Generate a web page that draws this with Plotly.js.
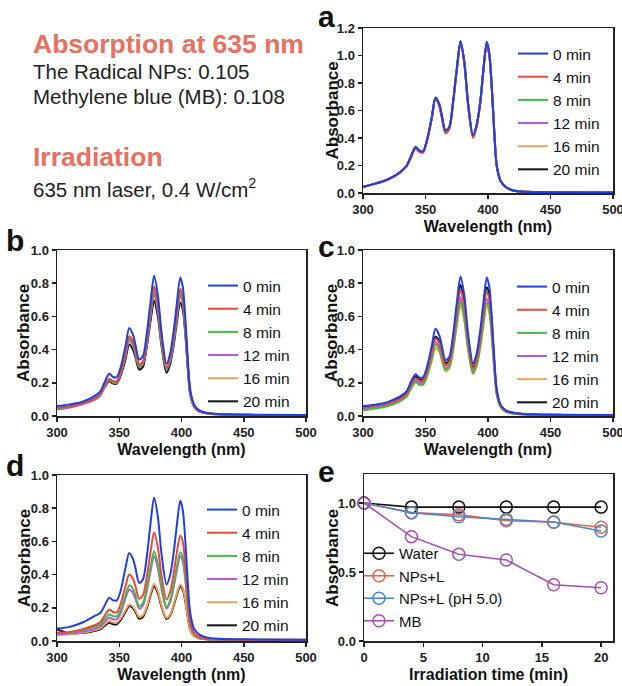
<!DOCTYPE html>
<html>
<head>
<meta charset="utf-8">
<script src="https://cdn.plot.ly/plotly-3.0.1.min.js"></script>
<style>
html,body{margin:0;padding:0;background:#fff;}
#chart{width:622px;height:686px;}
</style>
</head>
<body>
<div id="chart"></div>
<script>
// ---------- DATA ----------
const wavelength = [300,310,320,330,335,338,342,345,348,351,355,358,361,363,366,369,372,375,378,381,384,388,391,394,396,399,401,403,405,407,410,414,420,430,450,500];
const timeLabels = ['0 min','4 min','8 min','12 min','16 min','20 min'];

// panel a
const a0  = [0.045,0.068,0.10,0.155,0.20,0.26,0.335,0.31,0.303,0.38,0.55,0.695,0.65,0.57,0.455,0.48,0.66,0.90,1.105,0.96,0.66,0.42,0.50,0.68,0.87,1.10,1.02,0.78,0.45,0.20,0.09,0.045,0.018,0.009,0.006,0.004];
const a4  = [0.042,0.07,0.097,0.15,0.195,0.25,0.322,0.30,0.293,0.37,0.54,0.685,0.63,0.55,0.435,0.465,0.65,0.89,1.09,0.945,0.645,0.40,0.485,0.665,0.855,1.075,1.0,0.765,0.44,0.195,0.088,0.044,0.017,0.009,0.006,0.004];
const a8  = [0.044,0.069,0.099,0.153,0.198,0.257,0.33,0.306,0.299,0.376,0.546,0.69,0.64,0.56,0.448,0.475,0.656,0.896,1.10,0.955,0.655,0.412,0.495,0.675,0.865,1.09,1.01,0.774,0.446,0.198,0.089,0.045,0.018,0.009,0.006,0.004];
const a12 = [0.044,0.068,0.099,0.152,0.197,0.256,0.329,0.305,0.298,0.375,0.545,0.689,0.64,0.56,0.447,0.474,0.655,0.895,1.098,0.953,0.653,0.41,0.493,0.673,0.863,1.088,1.008,0.772,0.445,0.197,0.089,0.045,0.018,0.009,0.006,0.004];
const a16 = [0.043,0.068,0.098,0.152,0.197,0.255,0.328,0.304,0.297,0.374,0.544,0.688,0.638,0.558,0.445,0.472,0.654,0.894,1.097,0.952,0.652,0.408,0.492,0.672,0.862,1.086,1.006,0.77,0.444,0.197,0.089,0.045,0.018,0.009,0.006,0.004];
const a20 = [0.044,0.068,0.099,0.153,0.198,0.257,0.33,0.306,0.299,0.376,0.547,0.691,0.642,0.562,0.449,0.476,0.657,0.897,1.10,0.956,0.656,0.413,0.496,0.676,0.866,1.092,1.012,0.775,0.447,0.198,0.089,0.045,0.018,0.009,0.006,0.004];

// panel b
const b0  = [0.06,0.07,0.085,0.12,0.15,0.20,0.255,0.235,0.235,0.29,0.42,0.53,0.49,0.43,0.34,0.36,0.49,0.68,0.845,0.73,0.50,0.315,0.38,0.53,0.66,0.835,0.78,0.60,0.35,0.16,0.07,0.035,0.02,0.012,0.008,0.006];
const b4  = [0.05,0.055,0.075,0.105,0.135,0.18,0.225,0.21,0.21,0.26,0.38,0.48,0.45,0.395,0.31,0.33,0.45,0.63,0.78,0.675,0.465,0.29,0.35,0.49,0.61,0.765,0.715,0.55,0.32,0.145,0.065,0.03,0.018,0.011,0.007,0.005];
const b8  = [0.045,0.055,0.075,0.10,0.13,0.175,0.22,0.205,0.205,0.255,0.37,0.465,0.435,0.38,0.30,0.32,0.44,0.61,0.75,0.65,0.45,0.285,0.34,0.475,0.59,0.74,0.69,0.535,0.31,0.14,0.062,0.03,0.017,0.01,0.007,0.005];
const b12 = [0.04,0.05,0.07,0.095,0.125,0.17,0.215,0.20,0.20,0.25,0.36,0.455,0.425,0.37,0.295,0.31,0.425,0.59,0.73,0.63,0.44,0.28,0.33,0.46,0.575,0.72,0.675,0.52,0.30,0.135,0.06,0.03,0.017,0.01,0.007,0.005];
const b16 = [0.045,0.055,0.072,0.10,0.13,0.178,0.222,0.207,0.207,0.258,0.375,0.47,0.44,0.385,0.305,0.325,0.445,0.62,0.765,0.66,0.455,0.29,0.345,0.485,0.605,0.755,0.705,0.545,0.315,0.142,0.063,0.03,0.017,0.01,0.007,0.005];
const b20 = [0.05,0.058,0.075,0.105,0.13,0.17,0.21,0.195,0.195,0.24,0.34,0.43,0.40,0.355,0.28,0.295,0.41,0.565,0.695,0.60,0.42,0.26,0.315,0.44,0.55,0.68,0.64,0.50,0.29,0.13,0.058,0.028,0.016,0.01,0.007,0.005];

// panel c
const c0  = [0.06,0.068,0.085,0.12,0.15,0.20,0.252,0.232,0.233,0.29,0.42,0.525,0.485,0.425,0.335,0.355,0.485,0.68,0.84,0.73,0.50,0.318,0.38,0.53,0.66,0.835,0.78,0.60,0.35,0.16,0.07,0.035,0.02,0.012,0.008,0.006];
const c4  = [0.05,0.06,0.075,0.105,0.135,0.18,0.228,0.212,0.212,0.262,0.38,0.465,0.44,0.385,0.305,0.325,0.44,0.62,0.76,0.66,0.455,0.285,0.344,0.48,0.60,0.745,0.705,0.543,0.317,0.145,0.063,0.032,0.018,0.011,0.007,0.005];
const c8  = [0.035,0.045,0.06,0.09,0.118,0.16,0.205,0.19,0.19,0.238,0.345,0.43,0.40,0.35,0.28,0.295,0.40,0.56,0.69,0.595,0.41,0.26,0.312,0.435,0.545,0.68,0.64,0.49,0.287,0.13,0.055,0.027,0.015,0.009,0.006,0.005];
const c12 = [0.045,0.055,0.07,0.10,0.128,0.17,0.215,0.20,0.20,0.247,0.357,0.445,0.415,0.362,0.29,0.306,0.415,0.58,0.715,0.615,0.425,0.27,0.323,0.45,0.565,0.705,0.663,0.51,0.298,0.136,0.06,0.03,0.017,0.01,0.007,0.005];
const c16 = [0.045,0.052,0.068,0.095,0.122,0.163,0.205,0.188,0.188,0.232,0.33,0.41,0.385,0.335,0.268,0.285,0.385,0.54,0.665,0.575,0.40,0.252,0.30,0.42,0.525,0.66,0.62,0.475,0.277,0.127,0.055,0.027,0.015,0.009,0.006,0.005];
const c20 = [0.055,0.065,0.08,0.112,0.14,0.187,0.238,0.22,0.22,0.272,0.393,0.477,0.45,0.395,0.318,0.337,0.458,0.64,0.79,0.68,0.47,0.295,0.355,0.50,0.625,0.775,0.73,0.56,0.327,0.15,0.065,0.033,0.019,0.011,0.007,0.005];

// panel d
const d0  = [0.075,0.085,0.11,0.15,0.17,0.21,0.26,0.245,0.245,0.30,0.44,0.53,0.495,0.44,0.35,0.37,0.50,0.70,0.865,0.75,0.52,0.34,0.40,0.55,0.68,0.845,0.79,0.61,0.36,0.17,0.075,0.04,0.022,0.014,0.01,0.008];
const d4  = [0.05,0.055,0.07,0.095,0.115,0.15,0.19,0.175,0.172,0.22,0.33,0.40,0.375,0.33,0.255,0.275,0.38,0.53,0.655,0.565,0.39,0.25,0.30,0.42,0.52,0.635,0.60,0.46,0.27,0.12,0.05,0.025,0.014,0.01,0.008,0.007];
const d8  = [0.045,0.052,0.065,0.085,0.10,0.13,0.16,0.15,0.148,0.185,0.275,0.335,0.315,0.275,0.21,0.228,0.315,0.44,0.54,0.465,0.325,0.205,0.248,0.35,0.435,0.535,0.505,0.39,0.23,0.105,0.045,0.022,0.013,0.009,0.007,0.006];
const d12 = [0.04,0.045,0.055,0.072,0.088,0.112,0.14,0.132,0.13,0.168,0.255,0.31,0.29,0.255,0.195,0.212,0.295,0.415,0.51,0.44,0.31,0.195,0.235,0.335,0.415,0.51,0.48,0.37,0.22,0.10,0.043,0.021,0.012,0.008,0.006,0.006];
const d16 = [0.035,0.04,0.05,0.065,0.078,0.098,0.12,0.112,0.11,0.135,0.185,0.22,0.207,0.185,0.145,0.155,0.205,0.285,0.345,0.30,0.215,0.14,0.162,0.23,0.28,0.34,0.32,0.25,0.15,0.07,0.03,0.016,0.01,0.007,0.006,0.005];
const d20 = [0.07,0.045,0.048,0.06,0.072,0.09,0.11,0.102,0.10,0.126,0.175,0.21,0.198,0.175,0.135,0.145,0.195,0.272,0.33,0.288,0.205,0.133,0.155,0.22,0.27,0.33,0.31,0.24,0.145,0.068,0.03,0.016,0.01,0.007,0.006,0.005];

// panel e
const irrTime = [0,4,8,12,16,20];
const water   = [1.0,0.97,0.97,0.97,0.97,0.97];
const npsL    = [1.0,0.93,0.915,0.872,0.86,0.824];
const npsLpH  = [1.0,0.93,0.90,0.882,0.862,0.797];
const mbVals  = [1.0,0.756,0.628,0.587,0.408,0.386];
const eNames  = ['Water','NPs+L','NPs+L (pH 5.0)','MB'];

// ---------- STYLE ----------
const FONT = 'Liberation Sans, Arial, Helvetica, sans-serif';
const specColors = ['#1f3fe6','#e8483a','#44b84a','#b25ae6','#f2a25a','#111111'];
const eColors = ['#111111','#e8604f','#4a86c8','#a64fb0'];
const W = 622, H = 686;
const px = v => v / W;
const py = v => 1 - v / H;

const panels = [
  {id:'', sets:[a0,a4,a8,a12,a16,a20], legend:'legend'},
  {id:'2', sets:[b0,b4,b8,b12,b16,b20], legend:'legend2'},
  {id:'3', sets:[c0,c4,c8,c12,c16,c20], legend:'legend3'},
  {id:'4', sets:[d0,d4,d8,d12,d16,d20], legend:'legend4'}
];

const traces = [];
panels.forEach(p => {
  for (let i = 5; i >= 0; i--) {
    traces.push({
      type:'scatter', mode:'lines', x:wavelength, y:p.sets[i], name:timeLabels[i],
      xaxis:'x'+p.id, yaxis:'y'+p.id, legend:p.legend,
      line:{color:specColors[i], width:2, shape:'spline', smoothing:0.8},
      hoverinfo:'skip'
    });
  }
});
const eSets = [water, npsL, npsLpH, mbVals];
eSets.forEach((s, i) => {
  traces.push({
    type:'scatter', mode:'lines+markers', x:irrTime, y:s, name:eNames[i],
    xaxis:'x5', yaxis:'y5', legend:'legend5', cliponaxis:false,
    line:{color:eColors[i], width:1.6},
    marker:{symbol:'circle-open', size:12, color:eColors[i], line:{width:1.5, color:eColors[i]}}
  });
});

function ax(extra) {
  return Object.assign({
    showline:true, linecolor:'#222', linewidth:1.5, mirror:true,
    ticks:'outside', ticklen:4, tickwidth:1.5, tickcolor:'#222',
    showgrid:false, zeroline:false, fixedrange:true, ticklabeloverflow:'allow',
    tickfont:{family:FONT, size:13, color:'#222', weight:'bold'}
  }, extra);
}
const xTitle = t => ({text:t, font:{family:FONT, size:16, color:'#111', weight:'bold'}, standoff:4});

const xa = [363,613], xb = [57,306];
const ya = [28,193], yb = [250,416], yd = [475,641], ye = [474,641];
const dom = (r) => [px(r[0]), px(r[1])];
const domY = (r) => [py(r[1]), py(r[0])];

const specX = (d, anchor) => ax({domain:d, anchor:anchor, range:[300,500], tickvals:[300,350,400,450,500], title:xTitle('Wavelength (nm)')});
const specY = (d, anchor, top) => ax({domain:d, anchor:anchor, range:[0,top], dtick:0.2, tickformat:'.1f'});

const legendBase = (x, y, size) => ({x:x, y:y, xanchor:'left', yanchor:'top', bgcolor:'rgba(0,0,0,0)', borderwidth:0,
  font:{family:FONT, size:size, color:'#111'}, traceorder:'reversed', itemclick:false, itemdoubleclick:false});

const redTxt = '#e8705f';
const ann = (text, x, y, size, bold, color, anchorX, angle) => ({
  text:text, xref:'paper', yref:'paper', x:x, y:y, xanchor:anchorX || 'left', yanchor:'middle', showarrow:false,
  textangle: angle || 0,
  font:{family:FONT, size:size, color:color, weight: bold ? 'bold' : 'normal'}
});
const yLab = (x, y) => ann('Absorbance', px(x), py(y), 17, true, '#111', 'center', -90);

const layout = {
  width:W, height:H, margin:{l:0,r:0,t:0,b:0},
  paper_bgcolor:'#fff', plot_bgcolor:'#fff', showlegend:true,
  xaxis:  specX(dom(xa), 'y'),  yaxis:  specY(domY(ya), 'x', 1.2),
  xaxis2: specX(dom(xb), 'y2'), yaxis2: specY(domY(yb), 'x2', 1.0),
  xaxis3: specX(dom(xa), 'y3'), yaxis3: specY(domY(yb), 'x3', 1.0),
  xaxis4: specX(dom(xb), 'y4'), yaxis4: specY(domY(yd), 'x4', 1.0),
  xaxis5: ax({domain:[px(364), px(613)], anchor:'y5', range:[0,21], tickvals:[0,5,10,15,20], title:xTitle('Irradiation time (min)')}),
  yaxis5: ax({domain:domY(ye), anchor:'x5', range:[0,1.21], tickvals:[0,0.5,1.0], tickformat:'.1f'}),
  legend:  legendBase(px(513), py(37), 15.5),
  legend2: legendBase(px(203), py(269), 15.5),
  legend3: legendBase(px(512), py(270), 15.5),
  legend4: legendBase(px(202), py(493), 15.5),
  legend5: Object.assign(legendBase(px(359), py(537), 15), {traceorder:'normal'}),
  annotations: [
    ann('Absorption at 635 nm', px(31), py(44), 26.5, true, redTxt),
    ann('The Radical NPs: 0.105', px(31), py(71.5), 20.5, false, '#222'),
    ann('Methylene blue (MB): 0.108', px(31), py(96.5), 20.5, false, '#222'),
    ann('Irradiation', px(31), py(157), 26.5, true, redTxt),
    ann('635 nm laser, 0.4 W/cm<sup>2</sup>', px(31), py(188), 20.5, false, '#222'),
    ann('a', px(326), py(17), 30, true, '#111', 'center'),
    ann('b', px(15), py(241), 30, true, '#111', 'center'),
    ann('c', px(326), py(246), 30, true, '#111', 'center'),
    ann('d', px(15), py(466), 30, true, '#111', 'center'),
    ann('e', px(326), py(471), 30, true, '#111', 'center'),
    yLab(332, 110.5),
    yLab(24, 333),
    yLab(332, 333),
    yLab(24, 558),
    yLab(332, 558)
  ]
};

Plotly.newPlot('chart', traces, layout, {displayModeBar:false, staticPlot:true});
</script>
</body>
</html>
